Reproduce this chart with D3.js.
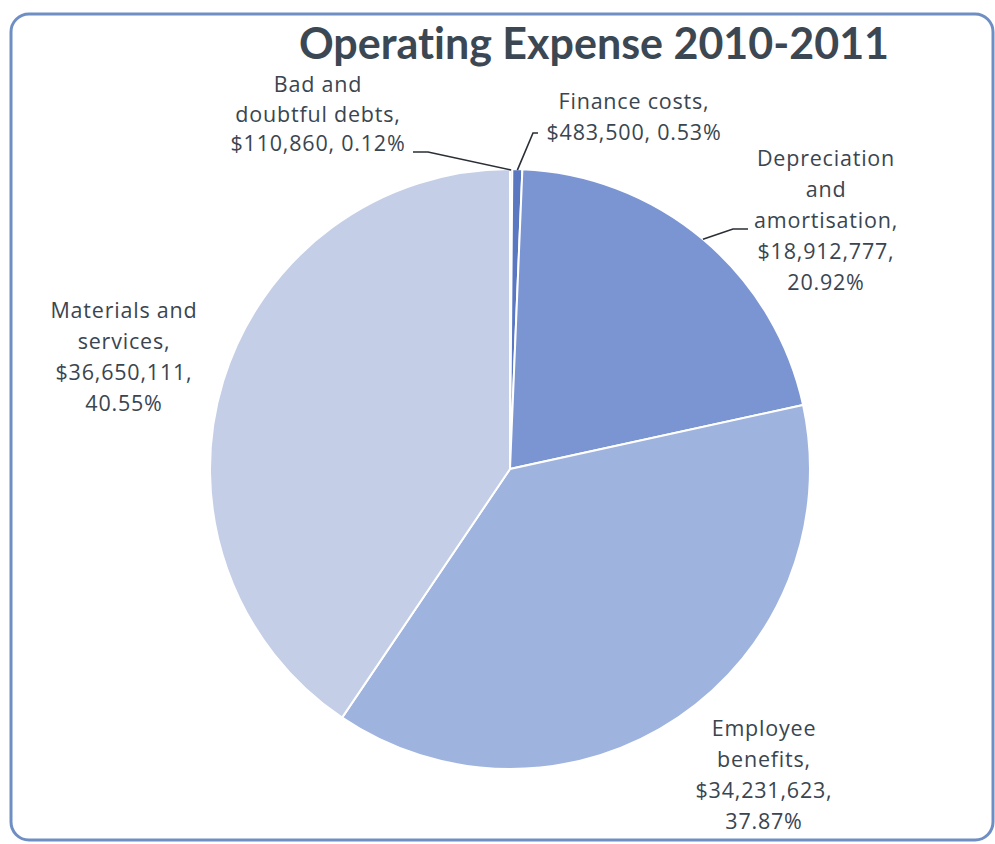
<!DOCTYPE html>
<html><head><meta charset="utf-8">
<script src="https://cdn.jsdelivr.net/npm/d3@7"></script>
<style>html,body{margin:0;padding:0;background:#fff;}svg{display:block;}text{font-variant-ligatures:none;}</style>
</head><body>
<svg id="chart" width="995" height="844"></svg>
<script>
const categories = ["Bad and doubtful debts", "Finance costs", "Depreciation and amortisation", "Employee benefits", "Materials and services"];
const values = [110860, 483500, 18912777, 34231623, 36650111];
const percents = ["0.12%", "0.53%", "20.92%", "37.87%", "40.55%"];
const colors = ["#4a68b4", "#5a78c2", "#7b95d3", "#9fb3df", "#c4cee6"];
const labelLines = [
  ["Bad and", "doubtful debts,", "$110,860, 0.12%"],
  ["Finance costs,", "$483,500, 0.53%"],
  ["Depreciation", "and", "amortisation,", "$18,912,777,", "20.92%"],
  ["Employee", "benefits,", "$34,231,623,", "37.87%"],
  ["Materials and", "services,", "$36,650,111,", "40.55%"]
];
// label layout: center x, first baseline y, line height
const labelPos = [[318, 92, 29.5], [634, 109, 31], [826, 166, 31], [764, 736, 31], [124, 318, 31]];
// leader line: [text-side x, y, elbow x]
const leaders = [[413, 152, 428], [538, 133, 533], [748, 229, 733], null, null];

const svg = d3.select("#chart");
const font = "'Open Sans', Lato, sans-serif";

svg.append("rect").attr("x", 11).attr("y", 14).attr("width", 982).attr("height", 826)
  .attr("rx", 18).attr("fill", "#fff").attr("stroke", "#6f8fc4").attr("stroke-width", 3);

svg.append("text").attr("x", 594).attr("y", 59).attr("text-anchor", "middle")
  .attr("font-family", "Lato, 'Open Sans', sans-serif").attr("font-weight", "bold").attr("font-size", 43)
  .attr("fill", "#3b4853").text("Operating Expense 2010-2011");

const cx = 510, cy = 469, R = 300;
const pie = d3.pie().sort(null).value(d => d)(values);
const arc = d3.arc().innerRadius(0).outerRadius(R);
const g = svg.append("g").attr("transform", `translate(${cx},${cy})`);
g.selectAll("path").data(pie).join("path")
  .attr("d", arc).attr("fill", (d, i) => colors[i])
  .attr("stroke", "#fff").attr("stroke-width", 2);

// leader lines
const edge = d3.arc().innerRadius(R).outerRadius(R);
pie.forEach((d, i) => {
  const L = leaders[i];
  if (!L) return;
  const c = edge.centroid(d);
  const px = cx + c[0], py = cy + c[1] + (i < 2 ? 1 : 0);
  svg.append("polyline")
    .attr("points", `${L[0]},${L[1]} ${L[2]},${L[1]} ${px},${py}`)
    .attr("fill", "none").attr("stroke", "#2a2f35").attr("stroke-width", 1.6);
});

labelLines.forEach((lines, i) => {
  const t = svg.append("text").attr("font-family", font).attr("font-size", 21.5)
    .attr("letter-spacing", 0.8)
    .attr("fill", "#3a4550").attr("text-anchor", "middle");
  lines.forEach((s, j) => {
    t.append("tspan").attr("x", labelPos[i][0]).attr("y", labelPos[i][1] + j * labelPos[i][2]).text(s);
  });
});
</script>
</body></html>
